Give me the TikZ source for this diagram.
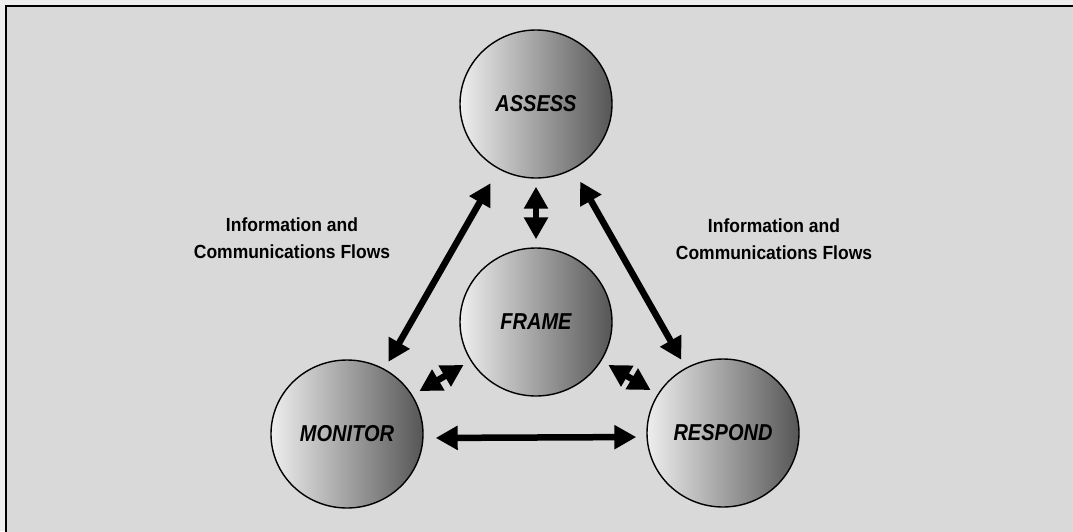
\documentclass[tikz,border=0pt]{standalone}
\usepackage{fontspec}
\setmainfont{Liberation Sans}
\newfontfamily\stagefont[FakeStretch=0.87]{Liberation Sans}
\newfontfamily\flowfont[FakeStretch=0.92]{Liberation Sans}
\usetikzlibrary{arrows.meta,shapes.geometric}

\definecolor{outside}{RGB}{238,238,238}
\definecolor{panel}{RGB}{217,217,217}
\definecolor{shadelight}{RGB}{238,238,238}
\definecolor{shadedark}{RGB}{86,86,86}

\begin{document}
\begin{tikzpicture}[x=1pt,y=-1pt,
    stage/.style={ellipse, draw, line width=1.4pt, minimum width=152pt, minimum height=148pt,
        left color=shadelight, right color=shadedark,
        font=\stagefont\fontsize{23}{27}\selectfont\bfseries\itshape},
    flow/.style={{Triangle[length=22pt,width=23pt]}-{Triangle[length=22pt,width=23pt]},
        line width=6.5pt, shorten <=8pt, shorten >=8pt},
    note/.style={align=center, font=\flowfont\fontsize{19}{27}\selectfont\bfseries}]

    \useasboundingbox (0,0) rectangle (1073,531);
    \clip (0,0) rectangle (1073,531);

    % panel
    \fill[outside] (0,0) rectangle (1073,531);
    \draw[fill=panel, line width=2pt] (6,6) rectangle (1090,550);

    % stages
    \node[stage] (assess) at (536,104) {ASSESS};
    \node[stage] (frame) at (536,322) {FRAME};
    \node[stage] (monitor) at (347,434) {MONITOR};
    \node[stage] (respond) at (723,433) {RESPOND};

    % flows
    \draw[flow, shorten <=16pt] (assess) -- (monitor);
    \draw[flow, shorten <=14pt, shorten >=9pt] (assess) -- (respond);
    \draw[flow] (assess) -- (frame);
    \draw[flow] (frame) -- (monitor);
    \draw[flow] (frame) -- (respond);
    \draw[flow, shorten <=12pt, shorten >=10pt] ([yshift=-4pt]monitor.east) -- ([yshift=-4pt]respond.west);

    % notes
    \node[note] (leftnote) at (292,238) {Information and\\Communications Flows};
    \node[note] (rightnote) at (774,239) {Information and\\Communications Flows};
\end{tikzpicture}
\end{document}
